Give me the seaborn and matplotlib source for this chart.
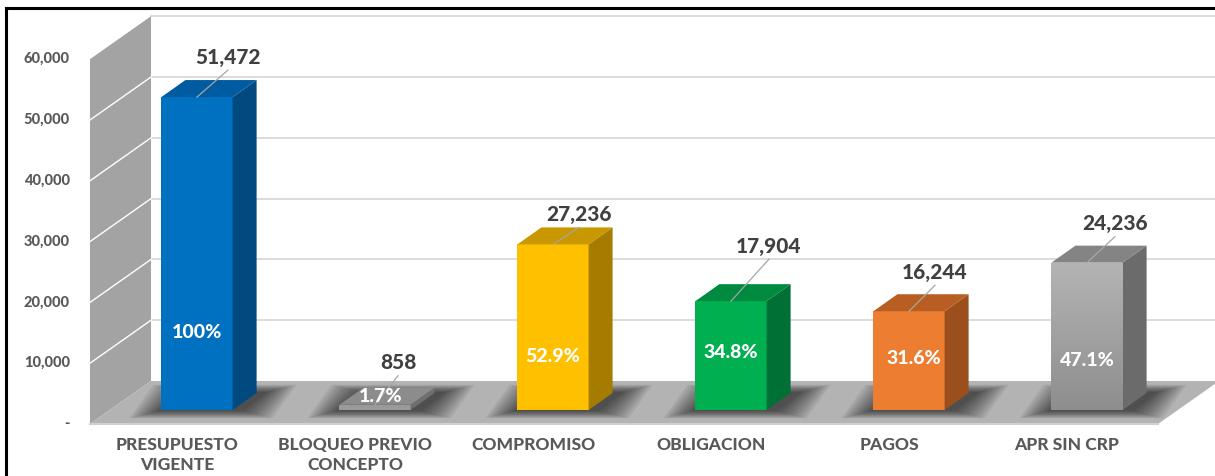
import numpy as np
import matplotlib
matplotlib.use("Agg")
import matplotlib.pyplot as plt
from matplotlib.patches import Polygon, Rectangle
from matplotlib.lines import Line2D
import seaborn as sns

categories = ["PRESUPUESTO\nVIGENTE", "BLOQUEO PREVIO\nCONCEPTO", "COMPROMISO",
              "OBLIGACION", "PAGOS", "APR SIN CRP"]
values = [51472, 858, 27236, 17904, 16244, 24236]
percent_labels = ["100%", "1.7%", "52.9%", "34.8%", "31.6%", "47.1%"]
value_labels = ["51,472", "858", "27,236", "17,904", "16,244", "24,236"]
y_ticks = [0, 10000, 20000, 30000, 40000, 50000, 60000]
y_tick_labels = ["-", "10,000", "20,000", "30,000", "40,000", "50,000", "60,000"]

front_colors = ["#0070C0", "#9A9A9A", "#FFC000", "#00B050", "#ED7D31", "#A6A6A6"]
top_colors = ["#005BA0", "#8C8C8C", "#C99700", "#008A40", "#B95E22", "#848484"]
side_colors = ["#004A80", "#6E6E6E", "#A67C00", "#007034", "#9A4F1C", "#6B6B6B"]

# pixel scale of the projection (bar plane)
PX_CAT = 178.0
PX_VAL = 0.00608


def dx(p):
    return p / PX_CAT


def dy(p):
    return p / PX_VAL


W, H = 1215, 476
fig = plt.figure(figsize=(W / 100, H / 100), dpi=100)
ax = fig.add_axes([0, 0, 1, 1])

# front faces via seaborn
sns.barplot(x=list(range(len(values))), y=values, hue=list(range(len(values))),
            palette=front_colors, width=0.4, legend=False, saturation=1, ax=ax)
bars = sorted([p for p in ax.patches if isinstance(p, Rectangle)], key=lambda p: p.get_x())

XLIM = (-197 / PX_CAT, (W - 197) / PX_CAT)
YLIM = ((410 - H) / PX_VAL, 410 / PX_VAL)

# depth offsets relative to the bar plane
FDX, FDY = dx(-20), dy(-14)
BDX, BDY = dx(41), dy(29)
DEP_X, DEP_Y = dx(24), dy(17)
XL, XR = dx(110 - 197), dx(1178 - 197)
TOP = 60000

# back wall gridlines
for v in y_ticks[1:]:
    ax.plot([XL + BDX, XR + BDX + 1], [BDY + v, BDY + v], color="#D9D9D9", lw=1.3, zorder=1)

# left wall
ax.add_patch(Polygon([(XL + FDX, FDY), (XL + BDX, BDY), (XL + BDX, BDY + TOP), (XL + FDX, FDY + TOP)],
                     closed=True, facecolor="#A3A3A3", edgecolor="none", zorder=2))
for v in y_ticks[1:-1]:
    ax.plot([XL + FDX, XL + BDX], [FDY + v, BDY + v], color="white", lw=1.0, zorder=2.5)

# floor
ax.add_patch(Polygon([(XL + FDX, FDY), (XR + FDX, FDY), (XR + BDX, BDY), (XL + BDX, BDY)],
                     closed=True, facecolor="#B3B3B3", edgecolor="none", zorder=2))
ax.plot([XL + FDX, XR + FDX], [FDY, FDY], color="#D0D0D0", lw=1.5, zorder=2.2)

for i, p in enumerate(bars):
    x0, w, h = p.get_x(), p.get_width(), p.get_height()
    x1 = x0 + w
    p.set_edgecolor("none")
    p.set_zorder(5)
    # blurred contact shadow
    for k in range(10):
        ex, ey = dx(3 + k * 3.2), dy(1.0 + k * 0.8)
        ax.add_patch(Polygon([(x0 - ex, -ey), (x1 + ex + dx(8), -ey),
                              (x1 + DEP_X + ex + dx(8), DEP_Y + ey), (x0 + DEP_X - ex, DEP_Y + ey)],
                             closed=True, facecolor="black", edgecolor="none", alpha=0.075, zorder=3))
    # side face
    ax.add_patch(Polygon([(x1, 0), (x1 + DEP_X, DEP_Y), (x1 + DEP_X, h + DEP_Y), (x1, h)],
                         closed=True, facecolor=side_colors[i], edgecolor="none", zorder=5))
    # top face
    ax.add_patch(Polygon([(x0, h), (x1, h), (x1 + DEP_X, h + DEP_Y), (x0 + DEP_X, h + DEP_Y)],
                         closed=True, facecolor=top_colors[i], edgecolor="none", zorder=5))

# gradient on the last bar
last = bars[-1]
grad = np.linspace(0, 1, 256).reshape(-1, 1)
cmap = matplotlib.colors.LinearSegmentedColormap.from_list("g", ["#8E8E8E", "#B4B4B4"])
im = ax.imshow(grad, cmap=cmap, aspect="auto", origin="lower",
               extent=[last.get_x(), last.get_x() + last.get_width(), 0, last.get_height()], zorder=5.5)
im.set_clip_path(last)

ax.set_xlim(*XLIM)
ax.set_ylim(*YLIM)
ax.axis("off")

font = "Lato"
wt = "black"
# y tick labels on the front plane
for v, lab in zip(y_ticks, y_tick_labels):
    ax.text(dx(70 - 197), FDY + v, lab, ha="right", va="center", fontsize=10.5,
            fontweight=wt, color="#595959", family=font)

# category labels
for i, (p, lab) in enumerate(zip(bars, categories)):
    cx = p.get_x() + p.get_width() / 2
    ax.text(cx + FDX, dy(410 - 437), lab, ha="center", va="top", fontsize=12.5,
            fontweight=wt, color="#595959", family=font, linespacing=1.3)

# percent labels inside bars
pct_y = [dy(410 - 332), dy(410 - 397), dy(410 - 356), dy(410 - 353), dy(410 - 358), dy(410 - 361)]
pct_dx = [0, 0.03, 0, 0, 0.03, 0]
for i, p in enumerate(bars):
    cx = p.get_x() + p.get_width() / 2
    ax.text(cx + pct_dx[i], pct_y[i], percent_labels[i], ha="center", va="center", fontsize=14,
            fontweight=wt, color="white", family=font, zorder=7)

# value labels with leader lines
lab_off = [(31, 40), (23, 42), (26, 30), (38, 55), (26, 39), (28, 39)]
for i, p in enumerate(bars):
    cx = p.get_x() + p.get_width() / 2
    h = p.get_height()
    ox, oy = lab_off[i]
    lx, ly = cx + dx(ox), h + dy(oy)
    ax.plot([cx, lx], [h, ly - dy(13)], color="#A6A6A6", lw=0.9, zorder=6)
    ax.text(lx, ly, value_labels[i], ha="center", va="center", fontsize=15,
            fontweight=wt, color="#404040", family=font, zorder=7)

# outer frame (top and left)
fig.add_artist(Line2D([6 / W, 1], [1 - 8 / H, 1 - 8 / H], color="black", lw=2.2))
fig.add_artist(Line2D([6 / W, 6 / W], [0, 1 - 8 / H], color="black", lw=2.2))

fig.savefig("out.png", dpi=100)
